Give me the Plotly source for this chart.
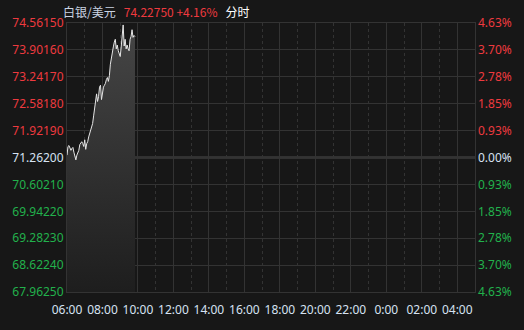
import plotly.graph_objects as go
import pandas as pd

# ---------------- data ----------------
BASE = 71.262
TITLE_NAME = "白银/美元"
LAST_PRICE = "74.22750"
LAST_CHG = "+4.16%"
MODE_LABEL = "分时"

prices = [
    71.321, 71.532, 71.556, 71.509, 71.438, 71.485, 71.509, 71.391, 71.297, 71.203,
    71.321, 71.368, 71.438, 71.579, 71.626, 71.649, 71.602, 71.532, 71.696, 71.462,
    71.602, 71.649, 71.767, 71.861, 71.884, 72.025, 72.096, 72.283, 72.471, 72.612,
    72.823, 72.636, 72.753, 72.988, 73.035, 72.683, 72.870, 72.988, 73.035, 73.082,
    73.176, 73.223, 73.129, 73.270, 73.551, 73.739, 73.880, 73.974, 74.091, 74.162,
    73.927, 74.021, 73.880, 73.810, 73.739, 73.974, 74.209, 74.514, 73.997, 74.162,
    73.927, 74.021, 73.927, 73.880, 74.162, 74.232, 74.397, 74.209, 74.256, 74.2275,
]
times = pd.date_range("2024-01-01 06:00:00", periods=len(prices), freq="200s")

y_ticks = [74.56150, 73.90160, 73.24170, 72.58180, 71.92190, 71.26200,
           70.60210, 69.94220, 69.28230, 68.62240, 67.96250]
pct_ticks = ["4.63%", "3.70%", "2.78%", "1.85%", "0.93%", "0.00%",
             "0.93%", "1.85%", "2.78%", "3.70%", "4.63%"]

x_tick_labels = ["06:00", "08:00", "10:00", "12:00", "14:00", "16:00",
                 "18:00", "20:00", "22:00", "0:00", "02:00", "04:00"]
x_start = pd.Timestamp("2024-01-01 06:00")
x_end = pd.Timestamp("2024-01-02 05:00")

# ---------------- styles ----------------
BG = "#171717"
GRID = "#333333"
RED = "#ee3a3f"
GREEN = "#22b14c"
NEUTRAL = "#d6e2f2"
FONT = "Noto Sans, Noto Sans CJK SC, sans-serif"


def colored(val, text):
    if abs(val - BASE) < 1e-6:
        c = NEUTRAL
    elif val > BASE:
        c = RED
    else:
        c = GREEN
    return f'<span style="color:{c}">{text}</span>'


left_text = [colored(v, f"{v:.5f}") for v in y_ticks]
right_text = [colored(v, t) for v, t in zip(y_ticks, pct_ticks)]

x_tickvals = [x_start + pd.Timedelta(hours=2 * i) for i in range(len(x_tick_labels))]
x_minor = [x_start + pd.Timedelta(hours=2 * i + 1) for i in range(11)]

y_lo, y_hi = min(y_ticks), max(y_ticks)

fig = go.Figure()
# floor trace for the area fill
fig.add_trace(go.Scatter(
    x=[times[0], times[-1]], y=[y_lo - 1, y_lo - 1], mode="lines",
    line=dict(width=0), hoverinfo="skip", showlegend=False,
))
fig.add_trace(go.Scatter(
    x=times, y=prices, mode="lines",
    line=dict(color="#e6e6e6", width=1),
    fill="tonexty",
    fillgradient=dict(type="vertical", start=y_lo, stop=y_hi,
                      colorscale=[[0, "#1c1c1c"], [1, "#464646"]]),
    hoverinfo="skip", showlegend=False,
))
# invisible trace to activate right axis
fig.add_trace(go.Scatter(x=[times[0]], y=[BASE], yaxis="y2", mode="markers",
                         marker=dict(opacity=0), showlegend=False, hoverinfo="skip"))

yr = [y_lo - 1e-4, y_hi + 1e-4]

fig.add_shape(type="line", xref="paper", x0=0, x1=1, yref="y", y0=BASE, y1=BASE,
              line=dict(color="#4d4d4d", width=2), layer="below")

fig.update_layout(
    width=524, height=330,
    paper_bgcolor=BG, plot_bgcolor=BG,
    margin=dict(l=61, r=49, t=23, b=26),
    font=dict(family=FONT, size=12, color=NEUTRAL),
    xaxis=dict(
        type="date", range=[x_start, x_end],
        tickmode="array", tickvals=x_tickvals, ticktext=x_tick_labels,
        showgrid=True, gridcolor=GRID, gridwidth=1,
        minor=dict(tickmode="array", tickvals=x_minor, showgrid=True,
                   gridcolor=GRID, griddash="3px,3px", gridwidth=1),
        showline=True, linecolor=GRID, mirror=True,
        zeroline=False, ticks="", ticklabelstandoff=7,
        tickfont=dict(color=NEUTRAL, size=12),
    ),
    yaxis=dict(
        range=yr, tickmode="array", tickvals=y_ticks, ticktext=left_text,
        showgrid=True, gridcolor=GRID, gridwidth=1,
        showline=True, linecolor=GRID, mirror=True,
        zeroline=False, ticks="", tickfont=dict(size=12),
    ),
    yaxis2=dict(
        range=yr, overlaying="y", side="right",
        tickmode="array", tickvals=y_ticks, ticktext=right_text,
        showgrid=False, zeroline=False, ticks="", ticklabelstandoff=2,
        tickfont=dict(size=12),
    ),
    annotations=[dict(
        xref="paper", yref="paper", x=0, y=1, yshift=12, xshift=-6,
        xanchor="left", yanchor="middle", showarrow=False,
        text=(f'<span style="color:#c9d3e2">{TITLE_NAME}</span>&nbsp;&nbsp;&nbsp;'
              f'<span style="color:{RED}">{LAST_PRICE}&nbsp;{LAST_CHG}</span>&nbsp;&nbsp;&nbsp;'
              f'<span style="color:#ffffff">{MODE_LABEL}</span>'),
        font=dict(family="Noto Sans CJK SC, Noto Sans, sans-serif", size=12),
    )],
)

fig.write_html("out.html")
